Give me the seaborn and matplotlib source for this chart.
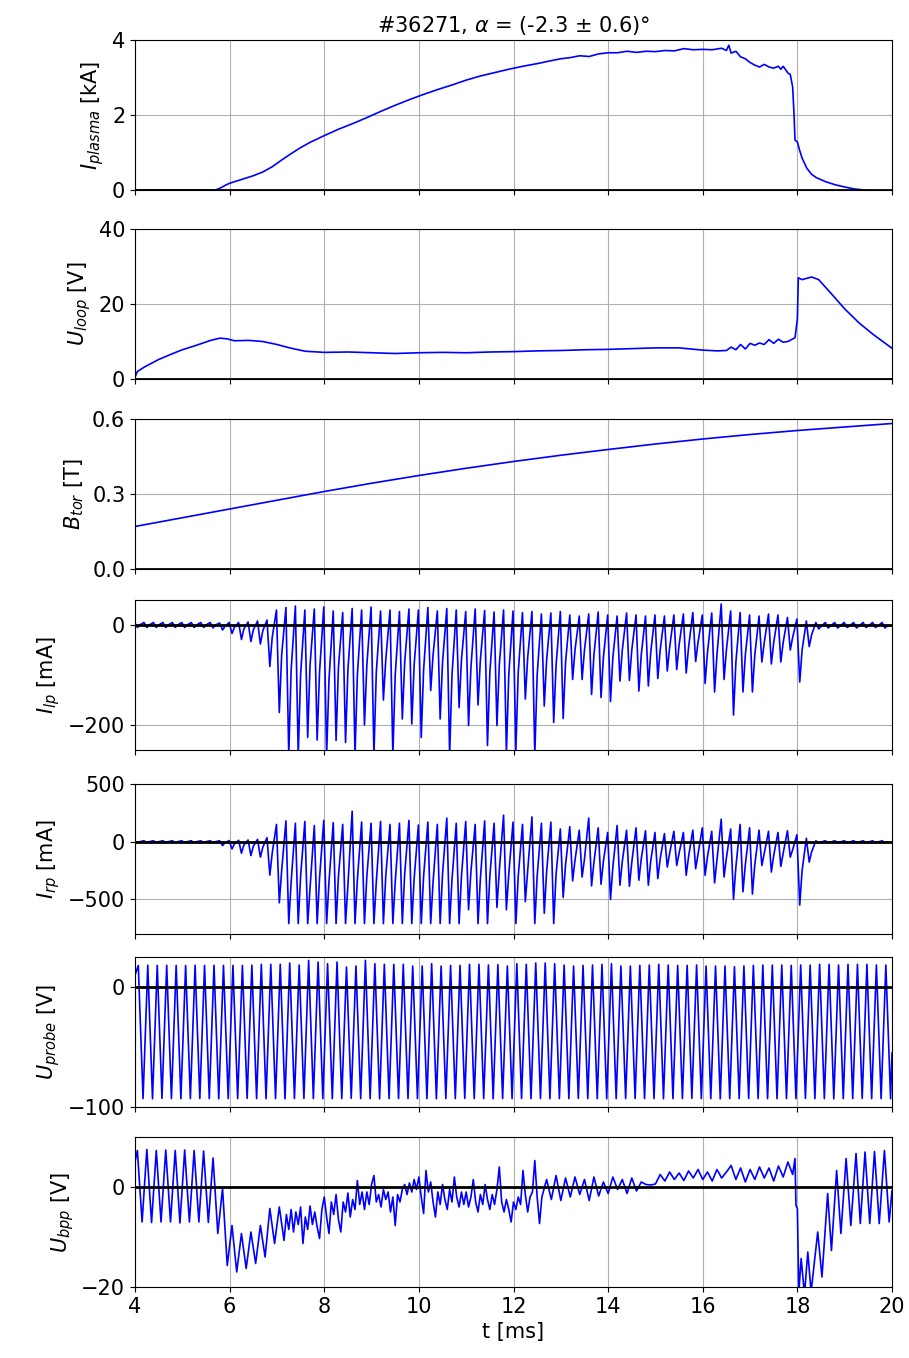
import numpy as np
import seaborn as sns
import matplotlib.pyplot as plt

# ---- data (t in ms) ----
# plasma current [kA]
ipl_t = [4.0, 5.7, 5.8, 5.9, 6.0, 6.1, 6.3, 6.5, 6.7, 6.9, 7.1, 7.3, 7.5, 7.7, 8.0, 8.3, 8.6, 8.9,
         9.2, 9.5, 9.8, 10.1, 10.4, 10.7, 11.0, 11.3, 11.6, 11.9, 12.2, 12.5, 12.8, 13.0, 13.2, 13.4,
         13.6, 13.8, 14.0, 14.2, 14.4, 14.6, 14.8, 15.0, 15.2, 15.4, 15.6, 15.8, 16.0, 16.2, 16.4,
         16.5, 16.55, 16.6, 16.7, 16.8, 16.9, 17.0, 17.1, 17.2, 17.3, 17.4, 17.5, 17.6, 17.65, 17.7,
         17.8, 17.85, 17.9, 17.93, 17.95, 18.0, 18.05, 18.1, 18.2, 18.3, 18.4, 18.6, 18.8, 19.0,
         19.2, 19.4]
ipl_v = [0.0, 0.0, 0.05, 0.12, 0.18, 0.22, 0.30, 0.38, 0.48, 0.62, 0.80, 0.97, 1.13, 1.27, 1.45,
         1.62, 1.77, 1.93, 2.10, 2.26, 2.41, 2.55, 2.68, 2.80, 2.93, 3.04, 3.13, 3.22, 3.30, 3.37,
         3.45, 3.50, 3.53, 3.58, 3.56, 3.63, 3.66, 3.66, 3.70, 3.67, 3.70, 3.69, 3.72, 3.71, 3.77,
         3.74, 3.75, 3.74, 3.78, 3.72, 3.86, 3.65, 3.70, 3.55, 3.50, 3.40, 3.33, 3.28, 3.35, 3.28,
         3.25, 3.30, 3.22, 3.30, 3.12, 3.08, 2.75, 2.00, 1.33, 1.28, 1.05, 0.85, 0.58, 0.42, 0.33,
         0.22, 0.14, 0.08, 0.03, 0.0]

# loop voltage [V]
uloop_t = [4.0, 4.05, 4.2, 4.5, 4.8, 5.0, 5.3, 5.6, 5.8, 5.95, 6.1, 6.4, 6.7, 7.0, 7.3, 7.6, 8.0,
           8.5, 9.0, 9.5, 10.0, 10.5, 11.0, 11.5, 12.0, 12.5, 13.0, 13.5, 14.0, 14.5, 15.0, 15.5,
           16.0, 16.3, 16.5, 16.6, 16.7, 16.8, 16.9, 17.0, 17.1, 17.2, 17.3, 17.4, 17.5, 17.6,
           17.7, 17.8, 17.95, 18.0, 18.02, 18.1, 18.3, 18.45, 18.7, 19.0, 19.3, 19.6, 20.0]
uloop_v = [0.5, 2.0, 3.2, 5.2, 6.8, 7.8, 9.0, 10.3, 10.9, 10.7, 10.2, 10.3, 10.0, 9.2, 8.2, 7.4,
           7.1, 7.2, 7.0, 6.8, 7.0, 7.1, 7.0, 7.2, 7.3, 7.5, 7.6, 7.8, 7.9, 8.1, 8.3, 8.3, 7.7,
           7.5, 7.6, 8.5, 7.8, 9.2, 8.0, 9.5, 9.0, 9.6, 9.2, 10.5, 9.5, 10.6, 9.8, 10.0, 11.0,
           16.0, 27.0, 26.5, 27.2, 26.5, 23.0, 18.7, 15.0, 11.9, 8.2]

# toroidal field [T]
btor_t = [4, 5, 6, 7, 8, 9, 10, 11, 12, 13, 14, 15, 16, 17, 18, 19, 20]
btor_v = [0.170, 0.205, 0.240, 0.275, 0.310, 0.343, 0.374, 0.403, 0.430, 0.455, 0.478, 0.500,
          0.520, 0.538, 0.554, 0.568, 0.582]

# probe currents [mA], one value per sweep period: peak, main dip, secondary dip
ilp_max = [5, 5, 5, 5, 5, 5, 5, 5, 5,
           4, 5, 5, 6, 8, 10,
           30, 35, 38, 30, 32, 36, 28, 25, 33, 30, 36,
           28, 30, 27, 32, 30, 35, 28, 33, 30, 27, 32, 29, 26, 30, 28,
           25, 27, 22, 24, 27, 20, 18, 22, 26, 20, 18, 24, 20, 18, 20,
           18, 20, 22, 25, 20, 24, 42, 28, 25, 20, 18, 22, 20, 15, 12, 8,
           5, 5, 5, 5, 5, 5, 5, 5]
ilp_min = [-5, -5, -5, -5, -5, -5, -5, -5, -6,
           -10, -17, -29, -33, -38, -83,
           -175, -260, -260, -225, -230, -260, -231, -235, -260, -200, -260,
           -150, -260, -188, -198, -225, -131, -188, -260, -165, -201, -160, -241, -201, -255, -250,
           -148, -260, -162, -195, -187, -109, -109, -139, -145, -153, -112, -111, -132, -122, -107,
           -92, -89, -96, -73, -117, -134, -109, -180, -134, -134, -74, -78, -74, -50, -114, -43,
           -8, -6, -6, -5, -6, -5, -5, -6]
ilp_mid = [0, 0, 0, 0, 0, 0, 0, 0, 0,
           -3, -5, -8, -10, -12, -25,
           -60, -90, -100, -80, -95, -110, -85, -90, -100, -80, -95,
           -70, -100, -75, -80, -90, -60, -75, -100, -70, -85, -70, -95, -80, -100, -95,
           -65, -100, -70, -80, -75, -50, -50, -60, -65, -65, -50, -50, -60, -55, -50,
           -45, -40, -45, -35, -55, -60, -50, -75, -60, -60, -35, -35, -35, -25, -50, -20,
           -3, -2, -2, -2, -2, -2, -2, -2]

irp_max = [8, 8, 8, 8, 8, 8, 8, 8, 8,
           8, 10, 12, 15, 20, 35,
           150, 180, 160, 175, 140, 185, 165, 150, 265, 170, 160,
           175, 150, 160, 185, 145, 170, 150, 205, 160, 175, 150, 180, 160, 230, 170,
           150, 215, 160, 170, 110, 130, 100, 205, 120, 80, 140, 100, 120, 95, 80,
           70, 90, 80, 100, 120, 90, 195, 110, 150, 120, 100, 90, 80, 95, 60, 30,
           8, 8, 8, 8, 8, 8, 8, 8]
irp_min = [-8, -8, -8, -8, -8, -8, -8, -8, -8,
           -34, -63, -100, -120, -134, -290,
           -530, -710, -710, -710, -710, -710, -710, -710, -710, -710, -710,
           -710, -710, -710, -710, -710, -710, -710, -710, -710, -590, -710, -710, -570, -590, -710,
           -520, -710, -620, -710, -483, -340, -306, -383, -369, -500, -377, -386, -334, -377, -320,
           -220, -206, -291, -234, -291, -357, -306, -500, -434, -454, -206, -263, -214, -134, -549, -177,
           -10, -8, -8, -8, -8, -8, -8, -8]
irp_mid = [0, 0, 0, 0, 0, 0, 0, 0, 0,
           -10, -20, -30, -40, -50, -100,
           -250, -350, -300, -400, -320, -350, -300, -380, -330, -300, -350,
           -300, -350, -280, -320, -300, -350, -280, -330, -300, -260, -320, -300, -250, -280, -300,
           -250, -300, -260, -280, -200, -160, -150, -180, -170, -220, -170, -180, -150, -170, -150,
           -100, -100, -130, -110, -130, -160, -140, -220, -200, -200, -100, -120, -100, -70, -250, -90,
           -3, -3, -3, -3, -3, -3, -3, -3]

# probe sweep voltage [V], maxima and minima of each period
uprobe_max = [18.0, 18.2, 18.0, 18.1, 18.0, 18.0, 18.2, 18.0, 18.1, 18.0,
              18.0, 18.0, 18.2, 18.9, 18.9, 18.9, 20.0, 18.3, 22.2, 20.8,
              19.4, 20.8, 16.7, 17.5, 22.2, 19.4, 18.9, 18.9, 18.9, 17.5,
              17.5, 19.4, 17.5, 18.0, 18.0, 18.9, 18.9, 18.3, 18.6, 17.5,
              19.4, 18.9, 20.0, 20.0, 19.4, 18.3, 17.5, 18.0, 18.3, 18.9,
              19.4, 17.5, 17.5, 18.0, 18.3, 18.9, 18.3, 18.0, 18.0, 18.3,
              17.5, 17.5, 17.5, 16.9, 17.5, 18.0, 18.3, 18.3, 18.3, 18.0,
              18.3, 18.3, 18.9, 18.9, 18.3, 18.9, 18.9, 18.9, 18.3, 18.3]
uprobe_min = [-93.0, -93.2, -92.8, -93.0, -93.1, -93.0, -92.9, -93.0, -93.2, -93.0,
              -93.0, -92.8, -93.0, -93.1, -93.0, -93.2, -93.0, -92.9, -93.0, -93.0,
              -93.1, -93.0, -92.8, -93.0, -93.0, -93.2, -93.0, -93.0, -92.9, -93.0,
              -93.0, -93.1, -93.0, -93.0, -92.8, -93.0, -93.0, -93.2, -93.0, -93.0,
              -92.9, -93.0, -93.0, -93.1, -93.0, -93.0, -92.8, -93.0, -93.0, -93.2,
              -93.0, -93.0, -92.9, -93.0, -93.0, -93.1, -93.0, -93.0, -92.8, -93.0,
              -93.0, -93.2, -93.0, -93.0, -92.9, -93.0, -93.0, -93.1, -93.0, -93.0,
              -92.8, -93.0, -93.0, -93.2, -93.0, -93.0, -92.9, -93.0, -93.0, -93.1]

# ball-pen probe voltage [V]
ubpp_osc_max = [7.3, 7.5, 7.3, 7.4, 7.3, 7.4, 7.3, 7.2, 5.8, -0.3, -7.7, -9.3, -9.0, -7.7, -4.3, -4.0]
ubpp_osc_min = [-7.0, -7.1, -7.0, -7.0, -7.2, -7.0, -7.0, -7.1, -9.3, -15.7, -17.0, -16.3, -15.3,
                -14.0, -11.3, -10.7]
ubpp_noisy = [-5.5, -8.5, -4.5, -9.0, -5.0, -7.5, -4.0, -11.3, -6.0, -8.5, -3.8, -7.5, -5.0, -8.0,
              -10.3, -4.5,
              -2.0, -6.0, -9.3, -3.0, -5.5, -1.5, -6.5, -9.0, -3.0, -5.0, -1.2, -6.0, -2.5, -4.5,
              1.3, -3.5, -1.0,
              -4.5, -1.0, -3.5, 0.5, 2.3, -3.0, -1.5, -4.0, -0.5, -2.5, -1.0, -5.0, -2.0, -7.7,
              -1.5, -3.0, -0.5,
              0.5, -1.5, 0.8, -1.0, 1.5, -0.5, 2.0, -2.0, -5.3, 3.3, -1.0,
              1.0, -3.0, -6.0, -1.0, -3.5, 0.5, -2.5, -4.5, -0.5, -3.0, 2.0, -2.0, -4.0, -1.0,
              -3.5, -1.0, -4.0, -2.0, 1.5, -3.0, -5.0, -1.5, -3.5, 0.5, -2.5, -4.5, -1.5, -3.5,
              -0.5, 4.0,
              -3.0, -5.0, -2.5, -4.5, -7.0, -3.0, -4.5, -2.0, -3.5, 3.3, -1.5, -5.0, -2.0, -1.0,
              5.3, -2.0, -7.3]
ubpp_late = [-2.0, 1.5, -2.5, 2.3, -2.7, 1.8, -2.0, 2.0, -1.5, 1.5, -2.7, 2.0, -1.8,
             1.0, -1.3, 2.0, -0.5, 1.5, -1.3, 1.8, -0.8, 1.0,
             0.5, 0.4, 0.6,
             2.5, 1.2, 3.0, 1.5, 2.8, 1.3, 3.2, 1.8, 3.5, 1.5, 3.0, 1.2, 3.5, 1.8, 3.0, 4.3,
             1.5, 3.8, 1.0, 3.5, 1.5, 4.0, 1.8, 3.8, 1.2, 4.2, 2.0, 5.0, 2.5]
ubpp_end_t = [17.95, 17.97, 18.0, 18.03, 18.08, 18.15, 18.22, 18.29, 18.43, 18.52, 18.64, 18.72,
              18.83, 18.92, 19.03, 19.13, 19.24, 19.33, 19.43, 19.53, 19.63, 19.73, 19.84, 19.94, 20.0]
ubpp_end = [5.7, -3.7, -4.3, -21.0, -14.3, -21.5, -13.0, -21.0, -9.0, -18.0, -1.3, -12.7, 3.3,
            -9.3, 5.7, -7.7, 6.7, -7.3, 7.0, -7.3, 7.1, -7.3, 7.3, -7.0, -0.7]

# ---- assemble time series ----
t0 = 4.05 + 0.2 * np.arange(len(ilp_min))
spike_t = np.concatenate([[4.0], np.column_stack([t0 - 0.06, t0, t0 + 0.05]).ravel()])
ilp = np.concatenate([[0], np.column_stack([ilp_max, ilp_min, ilp_mid]).ravel()])
irp = np.concatenate([[0], np.column_stack([irp_max, irp_min, irp_mid]).ravel()])

tp = 4.07 + 0.2 * np.arange(len(uprobe_max))
uprobe_t = np.concatenate([[4.0], np.column_stack([tp, tp + 0.1]).ravel(), [20.0]])
uprobe = np.concatenate([[10.0], np.column_stack([uprobe_max, uprobe_min]).ravel(), [-55.0]])

tb = 4.05 + 0.2 * np.arange(len(ubpp_osc_max))
ubpp_t = np.concatenate([[4.0], np.column_stack([tb, tb + 0.1]).ravel(),
                         np.linspace(7.20, 12.55, len(ubpp_noisy)),
                         np.linspace(12.6, 17.9, len(ubpp_late)), ubpp_end_t])
ubpp = np.concatenate([[5.0], np.column_stack([ubpp_osc_max, ubpp_osc_min]).ravel(),
                       ubpp_noisy, ubpp_late, ubpp_end])

panels = [
    (ipl_t, ipl_v, r"$I_{plasma}$ [kA]", (0, 4), [0, 2, 4]),
    (uloop_t, uloop_v, r"$U_{loop}$ [V]", (0, 40), [0, 20, 40]),
    (btor_t, btor_v, r"$B_{tor}$ [T]", (0, 0.6), [0.0, 0.3, 0.6]),
    (spike_t, ilp, r"$I_{lp}$ [mA]", (-250, 50), [-200, 0]),
    (spike_t, irp, r"$I_{rp}$ [mA]", (-800, 500), [-500, 0, 500]),
    (uprobe_t, uprobe, r"$U_{probe}$ [V]", (-100, 25), [-100, 0]),
    (ubpp_t, ubpp, r"$U_{bpp}$ [V]", (-20, 10), [-20, 0]),
]

plt.rcParams['font.size'] = 15
fig = plt.figure(figsize=(9.09, 13.58), dpi=100)
W, H = 909, 1358
tops = [40, 229, 419, 600, 784, 957, 1137]

for i, (tt, vv, lab, ylim, yt) in enumerate(panels):
    ax = fig.add_axes([135 / W, 1 - (tops[i] + 150) / H, 757 / W, 150 / H])
    sns.lineplot(x=np.asarray(tt, float), y=np.asarray(vv, float), ax=ax, color='b',
                 lw=1.2, estimator=None, sort=False)
    ax.axhline(0, color='k', lw=2, zorder=3)
    ax.set_xlim(4, 20)
    ax.set_ylim(*ylim)
    ax.set_yticks(yt)
    if ylim == (0, 0.6):
        ax.set_yticklabels(['0.0', '0.3', '0.6'])
    ax.set_xticks(np.arange(4, 21, 2))
    ax.grid(True)
    ax.set_ylabel(lab)
    if i < len(panels) - 1:
        ax.tick_params(labelbottom=False)
        ax.set_xlabel('')
    else:
        ax.set_xlabel('t [ms]')
    if i == 0:
        ax.set_title(r"#36271, $\alpha$ = (-2.3 ± 0.6)°", fontsize=15)

fig.savefig('out.png', dpi=100)
